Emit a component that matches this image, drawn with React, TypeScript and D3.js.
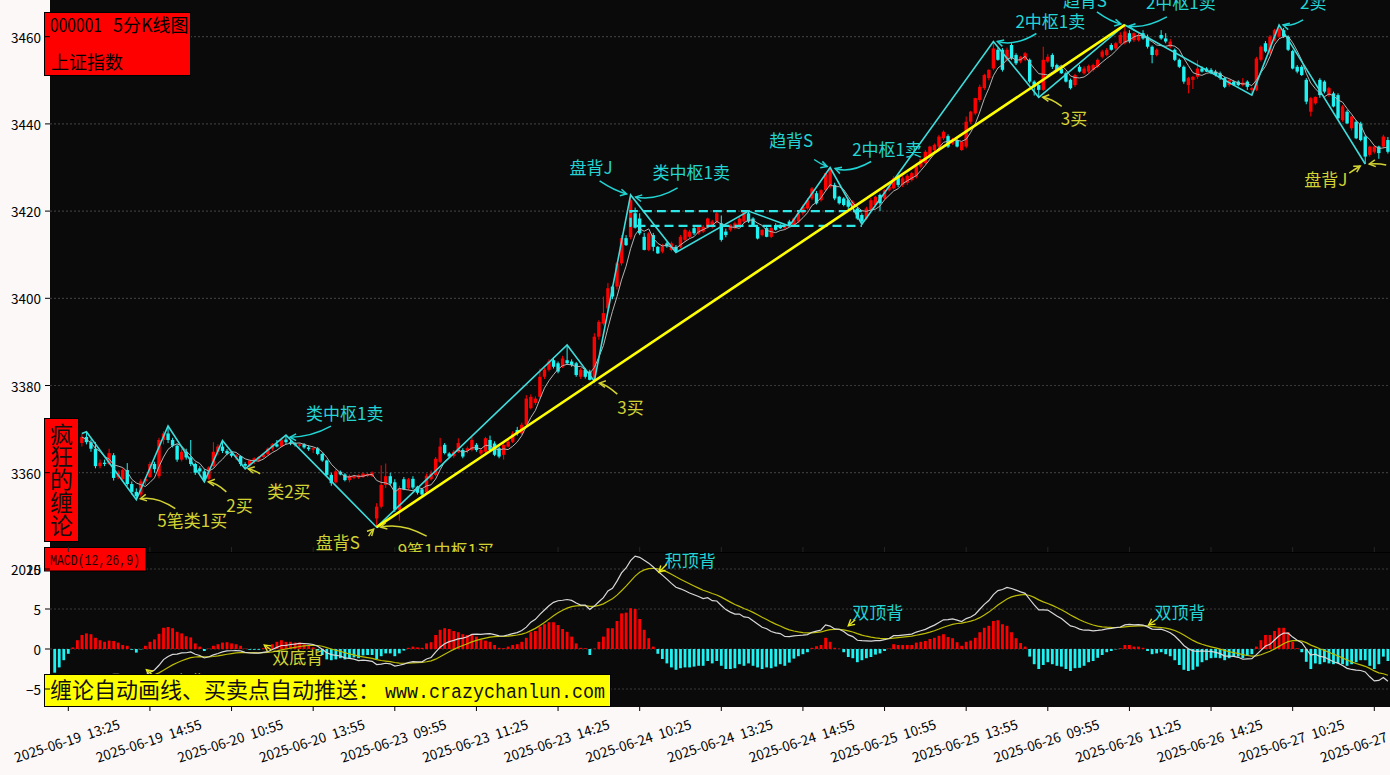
import * as React from 'react';
import * as d3 from 'd3';

// 5-minute slots; slot 0 = 2025-06-19 13:05, candles start at slot 7
const firstSlot = 7;

const opens = [
	3366.8, 3368.2, 3367.0, 3365.5, 3361.5, 3362.3, 3362.0, 3364.0, 3359.0, 3358.5,
	3360.6, 3357.4, 3355.6, 3355.0, 3358.0, 3359.0, 3362.0, 3359.2, 3367.5, 3369.0,
	3367.5, 3366.2, 3363.0, 3364.8, 3363.5, 3362.0, 3361.0, 3360.3, 3358.6, 3361.5,
	3364.8, 3366.0, 3365.0, 3364.4, 3363.6, 3363.8, 3362.0, 3361.6, 3362.8, 3363.0,
	3363.6, 3364.2, 3365.5, 3366.5, 3366.0, 3367.6, 3367.0, 3366.7, 3366.2, 3366.5,
	3365.8, 3365.3, 3365.6, 3364.3, 3362.8, 3359.5, 3357.8, 3360.2, 3359.6, 3358.3,
	3358.8, 3358.9, 3359.0, 3359.3, 3359.2, 3349.5, 3352.2, 3357.2, 3359.2, 3357.8,
	3351.5, 3358.5, 3356.5, 3358.6, 3356.8, 3356.2, 3355.5, 3358.5, 3359.5, 3362.5,
	3366.4, 3364.4, 3363.8, 3364.8, 3365.2, 3365.0, 3365.2, 3366.4, 3364.4, 3364.8,
	3367.5, 3366.7, 3365.6, 3364.1, 3366.0, 3367.1, 3369.8, 3369.0, 3371.0, 3374.8,
	3376.0, 3377.4, 3382.0, 3383.6, 3385.8, 3385.1, 3384.3, 3385.8, 3385.5, 3385.1,
	3382.0, 3383.6, 3383.2, 3381.5, 3391.2, 3394.2, 3397.7, 3402.7, 3402.7, 3408.0,
	3413.8, 3414.0, 3419.5, 3418.3, 3414.1, 3411.1, 3414.5, 3411.8, 3410.7, 3412.6,
	3411.1, 3411.8, 3411.8, 3413.4, 3414.1, 3416.1, 3414.9, 3415.3, 3416.4, 3416.4,
	3417.6, 3417.2, 3415.3, 3415.7, 3416.1, 3416.8, 3417.6, 3419.5, 3418.3, 3416.4,
	3414.5, 3416.1, 3414.1, 3416.8, 3416.8, 3416.1, 3417.6, 3416.8, 3417.6, 3419.5,
	3420.6, 3422.9, 3424.1, 3422.5, 3424.8, 3425.6, 3426.0, 3423.3, 3422.9, 3422.5,
	3421.0, 3420.6, 3419.1, 3418.3, 3420.3, 3421.4, 3423.7, 3422.9, 3424.8, 3425.2,
	3428.0, 3426.0, 3426.5, 3427.1, 3427.9, 3430.2, 3431.0, 3432.5, 3434.0, 3434.8,
	3436.7, 3437.2, 3435.5, 3436.3, 3434.0, 3434.8, 3440.5, 3442.4, 3445.5, 3448.2,
	3450.5, 3452.7, 3457.0, 3457.0, 3454.7, 3458.1, 3455.8, 3454.3, 3454.7, 3454.7,
	3449.7, 3448.9, 3447.8, 3454.3, 3455.8, 3453.5, 3452.7, 3451.6, 3450.1, 3448.9,
	3453.1, 3451.6, 3452.0, 3452.4, 3453.1, 3455.4, 3455.8, 3458.1, 3457.3, 3458.5,
	3458.5, 3460.8, 3459.2, 3459.2, 3460.8, 3460.0, 3457.7, 3455.8, 3460.4, 3459.6,
	3457.7, 3457.0, 3454.7, 3453.1, 3448.9, 3450.1, 3450.8, 3452.7, 3452.7, 3452.4,
	3452.0, 3451.6, 3450.5, 3448.9, 3449.7, 3449.7, 3448.9, 3449.7, 3447.8, 3447.8,
	3454.7, 3458.5, 3456.2, 3459.2, 3460.0, 3461.5, 3460.0, 3456.7, 3453.1, 3453.1,
	3450.1, 3442.8, 3444.7, 3450.1, 3449.7, 3446.6, 3447.0, 3446.6, 3440.9, 3442.8,
	3439.0, 3440.5, 3440.1, 3437.1, 3432.9, 3433.6, 3434.8, 3434.8, 3436.3
];

const highs = [
	3369.0, 3369.4, 3367.6, 3367.0, 3363.0, 3363.0, 3365.5, 3364.5, 3360.5, 3361.0,
	3362.2, 3358.0, 3356.4, 3358.5, 3359.0, 3362.5, 3362.5, 3368.0, 3369.5, 3370.7,
	3368.0, 3366.5, 3365.5, 3365.5, 3367.5, 3362.3, 3361.5, 3360.8, 3361.5, 3367.0,
	3366.5, 3367.4, 3365.4, 3365.0, 3364.3, 3364.0, 3362.4, 3363.0, 3363.5, 3363.8,
	3364.5, 3365.8, 3366.8, 3367.5, 3368.0, 3368.6, 3367.5, 3367.0, 3366.8, 3366.8,
	3366.3, 3365.8, 3365.9, 3364.6, 3363.0, 3360.0, 3360.8, 3360.5, 3359.9, 3359.6,
	3359.5, 3359.6, 3360.0, 3360.0, 3360.3, 3353.0, 3361.7, 3362.1, 3360.0, 3358.5,
	3357.0, 3359.0, 3358.8, 3359.2, 3357.0, 3356.5, 3359.8, 3360.5, 3363.6, 3368.0,
	3366.8, 3364.7, 3365.2, 3367.9, 3365.6, 3366.0, 3368.3, 3366.8, 3365.6, 3368.2,
	3368.5, 3367.2, 3366.0, 3366.8, 3367.5, 3369.5, 3370.5, 3371.5, 3377.8, 3378.0,
	3377.5, 3383.9, 3384.0, 3386.0, 3386.5, 3385.5, 3386.8, 3389.3, 3386.0, 3385.4,
	3384.0, 3384.0, 3383.6, 3392.0, 3395.0, 3400.4, 3403.5, 3403.0, 3408.3, 3414.5,
	3414.5, 3423.7, 3420.8, 3419.5, 3415.0, 3415.2, 3415.0, 3412.0, 3412.5, 3413.0,
	3413.0, 3412.2, 3414.5, 3416.0, 3415.7, 3416.5, 3416.8, 3416.8, 3418.5, 3418.0,
	3419.8, 3419.0, 3416.0, 3417.0, 3417.6, 3418.8, 3419.9, 3420.0, 3418.6, 3416.8,
	3415.8, 3416.5, 3416.4, 3417.2, 3417.0, 3417.0, 3418.0, 3418.5, 3420.0, 3421.5,
	3423.0, 3425.5, 3424.6, 3425.0, 3428.8, 3430.0, 3426.5, 3423.5, 3423.2, 3422.8,
	3422.5, 3421.0, 3419.5, 3421.0, 3423.0, 3423.5, 3424.0, 3425.0, 3426.0, 3428.0,
	3428.3, 3428.0, 3428.5, 3429.0, 3431.0, 3432.0, 3434.0, 3435.0, 3435.5, 3437.5,
	3438.5, 3437.6, 3436.8, 3436.6, 3436.0, 3441.7, 3443.0, 3446.0, 3449.0, 3451.5,
	3452.5, 3458.9, 3457.5, 3457.4, 3457.5, 3458.5, 3456.2, 3455.6, 3456.5, 3455.0,
	3450.0, 3449.3, 3457.7, 3456.0, 3456.2, 3453.8, 3453.0, 3452.0, 3450.4, 3451.5,
	3453.5, 3453.2, 3453.6, 3453.8, 3455.0, 3457.0, 3457.4, 3458.5, 3458.8, 3461.0,
	3462.7, 3461.5, 3461.0, 3460.8, 3461.5, 3460.5, 3458.0, 3457.3, 3461.5, 3460.8,
	3459.5, 3457.3, 3455.0, 3453.4, 3450.8, 3451.0, 3454.6, 3453.2, 3453.0, 3452.8,
	3452.4, 3452.0, 3450.8, 3450.3, 3450.0, 3450.0, 3450.5, 3450.0, 3448.5, 3455.4,
	3458.0, 3459.0, 3460.4, 3461.8, 3462.7, 3462.0, 3460.3, 3457.0, 3453.5, 3453.5,
	3450.5, 3446.2, 3446.3, 3450.5, 3450.0, 3448.5, 3447.4, 3447.0, 3444.3, 3443.2,
	3441.9, 3440.9, 3440.5, 3437.5, 3435.0, 3435.0, 3435.0, 3437.5, 3437.0
];

const lows = [
	3366.0, 3366.5, 3364.8, 3361.0, 3361.0, 3361.5, 3361.8, 3358.2, 3358.5, 3358.0,
	3357.0, 3355.0, 3353.8, 3354.5, 3357.2, 3358.8, 3360.0, 3358.7, 3366.5, 3366.8,
	3365.8, 3362.5, 3362.6, 3363.0, 3361.5, 3359.5, 3359.8, 3357.9, 3358.2, 3361.2,
	3364.0, 3364.5, 3364.0, 3363.5, 3362.9, 3361.5, 3360.9, 3361.3, 3362.0, 3362.5,
	3363.2, 3364.0, 3365.0, 3365.8, 3365.8, 3366.5, 3366.3, 3366.0, 3365.8, 3365.5,
	3365.0, 3364.5, 3364.0, 3362.5, 3359.0, 3357.0, 3357.5, 3359.4, 3358.0, 3357.8,
	3358.5, 3358.6, 3358.8, 3359.0, 3359.0, 3347.5, 3351.8, 3356.5, 3357.0, 3351.0,
	3349.0, 3356.0, 3356.0, 3356.2, 3355.0, 3354.6, 3355.0, 3358.2, 3359.2, 3362.2,
	3364.2, 3363.4, 3363.4, 3364.5, 3363.3, 3364.5, 3364.9, 3364.8, 3364.0, 3364.5,
	3365.0, 3363.8, 3363.3, 3363.0, 3365.8, 3366.8, 3368.5, 3368.6, 3370.8, 3374.5,
	3375.5, 3377.0, 3381.5, 3383.2, 3383.9, 3382.8, 3384.0, 3384.7, 3384.3, 3382.0,
	3381.5, 3381.6, 3381.2, 3381.0, 3390.5, 3393.8, 3397.0, 3399.8, 3402.0, 3407.5,
	3412.0, 3413.5, 3416.0, 3414.5, 3411.0, 3410.8, 3410.8, 3410.2, 3410.3, 3411.6,
	3410.8, 3410.5, 3411.5, 3413.0, 3413.8, 3414.5, 3414.6, 3415.0, 3416.0, 3416.0,
	3417.2, 3413.0, 3414.0, 3415.3, 3415.8, 3416.5, 3417.2, 3417.3, 3416.5, 3413.5,
	3414.2, 3414.0, 3413.8, 3415.5, 3415.9, 3415.8, 3416.6, 3416.6, 3417.3, 3419.0,
	3420.3, 3422.5, 3421.5, 3422.2, 3424.5, 3425.2, 3422.5, 3421.5, 3421.1, 3420.5,
	3420.6, 3418.0, 3417.0, 3418.0, 3420.0, 3421.0, 3420.0, 3422.5, 3424.5, 3425.0,
	3425.5, 3425.5, 3426.0, 3426.8, 3427.5, 3429.8, 3430.7, 3432.0, 3433.6, 3434.5,
	3436.3, 3434.5, 3435.2, 3434.6, 3433.8, 3434.4, 3440.0, 3442.0, 3445.0, 3447.8,
	3450.0, 3452.3, 3454.5, 3452.0, 3454.3, 3454.7, 3453.5, 3453.9, 3454.4, 3449.3,
	3446.5, 3446.1, 3447.5, 3454.0, 3452.6, 3452.0, 3451.5, 3449.5, 3447.9, 3448.5,
	3451.8, 3451.3, 3451.7, 3452.0, 3452.8, 3455.0, 3455.5, 3456.8, 3457.0, 3458.2,
	3458.2, 3458.5, 3458.8, 3458.9, 3459.3, 3457.3, 3453.9, 3455.5, 3459.3, 3458.5,
	3457.3, 3454.4, 3452.8, 3449.2, 3447.0, 3448.0, 3450.3, 3451.8, 3451.9, 3451.4,
	3450.9, 3450.1, 3448.2, 3448.5, 3448.7, 3448.6, 3448.6, 3447.8, 3446.6, 3447.5,
	3454.3, 3456.3, 3455.8, 3458.9, 3459.7, 3459.7, 3456.7, 3452.5, 3451.6, 3451.0,
	3444.5, 3441.7, 3444.4, 3446.0, 3447.0, 3446.2, 3443.8, 3441.0, 3440.5, 3440.0,
	3438.5, 3436.5, 3436.0, 3430.8, 3432.5, 3433.2, 3432.0, 3434.4, 3433.2
];

const closes = [
	3368.2, 3367.0, 3365.5, 3361.5, 3362.3, 3362.0, 3364.5, 3358.8, 3360.0, 3360.6,
	3357.4, 3355.6, 3354.6, 3358.0, 3358.6, 3362.0, 3360.8, 3367.5, 3369.0, 3367.5,
	3366.2, 3363.0, 3364.8, 3363.5, 3362.0, 3360.0, 3360.3, 3358.4, 3361.2, 3364.8,
	3366.0, 3365.0, 3364.4, 3363.9, 3364.0, 3362.0, 3361.6, 3362.8, 3363.3, 3363.6,
	3364.2, 3365.5, 3366.5, 3366.0, 3367.6, 3367.0, 3366.7, 3366.4, 3366.5, 3365.8,
	3365.4, 3365.6, 3364.3, 3362.8, 3359.5, 3357.6, 3360.3, 3359.6, 3358.3, 3359.3,
	3359.2, 3359.4, 3359.8, 3359.7, 3360.0, 3352.2, 3357.2, 3359.2, 3357.5, 3351.5,
	3356.5, 3356.2, 3358.5, 3356.6, 3355.4, 3355.0, 3359.3, 3359.8, 3363.2, 3366.0,
	3364.5, 3363.7, 3364.8, 3366.8, 3363.7, 3365.6, 3367.5, 3365.2, 3365.2, 3367.9,
	3365.2, 3364.1, 3363.7, 3366.4, 3367.1, 3369.0, 3369.0, 3371.0, 3377.0, 3377.4,
	3377.0, 3382.0, 3383.6, 3385.5, 3384.3, 3383.2, 3386.2, 3385.1, 3384.7, 3382.4,
	3383.6, 3382.0, 3381.3, 3391.2, 3394.6, 3396.6, 3402.3, 3400.4, 3408.0, 3413.8,
	3412.2, 3422.5, 3416.2, 3414.9, 3411.1, 3414.9, 3411.8, 3410.3, 3411.9, 3411.9,
	3412.6, 3410.7, 3414.1, 3415.7, 3415.3, 3414.9, 3416.4, 3416.4, 3418.3, 3417.6,
	3419.5, 3413.4, 3414.5, 3416.8, 3417.2, 3418.3, 3419.8, 3417.6, 3416.8, 3413.7,
	3415.7, 3414.1, 3416.1, 3415.7, 3416.1, 3416.8, 3416.8, 3418.3, 3419.5, 3421.0,
	3422.5, 3425.2, 3421.8, 3424.8, 3428.7, 3429.8, 3422.9, 3421.8, 3421.4, 3421.0,
	3422.2, 3418.3, 3417.6, 3420.6, 3422.5, 3423.3, 3421.8, 3424.8, 3425.6, 3427.5,
	3426.0, 3427.5, 3428.1, 3428.7, 3430.3, 3431.9, 3433.6, 3434.8, 3435.2, 3437.1,
	3438.2, 3434.8, 3436.3, 3434.8, 3435.9, 3440.5, 3442.8, 3445.9, 3448.5, 3451.2,
	3452.4, 3457.3, 3454.7, 3452.4, 3457.0, 3455.0, 3453.9, 3455.4, 3456.2, 3449.7,
	3448.5, 3447.8, 3454.7, 3455.4, 3453.1, 3452.4, 3451.6, 3449.7, 3448.2, 3451.2,
	3452.0, 3452.7, 3453.3, 3453.5, 3454.7, 3456.6, 3457.0, 3457.0, 3458.5, 3460.4,
	3461.2, 3458.9, 3460.8, 3460.4, 3459.6, 3457.7, 3455.8, 3457.0, 3459.6, 3458.9,
	3458.9, 3454.7, 3453.1, 3449.7, 3450.5, 3450.8, 3452.7, 3452.0, 3452.0, 3451.6,
	3451.2, 3450.5, 3448.5, 3450.1, 3448.9, 3448.9, 3449.5, 3448.5, 3448.2, 3455.0,
	3457.7, 3456.6, 3460.0, 3461.5, 3461.9, 3460.0, 3457.0, 3452.7, 3452.0, 3451.2,
	3445.1, 3445.9, 3446.2, 3446.6, 3447.4, 3448.2, 3444.0, 3441.3, 3444.0, 3440.1,
	3441.7, 3436.7, 3436.3, 3432.5, 3434.8, 3434.8, 3433.3, 3437.1, 3433.6
];

// MACD histogram (2 x (DIF - DEA)), slot 1 onwards
const macdFirstSlot = 1;
const macdHist = [
	-2.96, -2.3, -1.4, -0.6, 0.2, 1.1, 1.75, 1.95, 1.85, 1.4,
	1.1, 0.9, 1.05, 1.0, 0.8, 0.5, 0.4, -0.1, -0.45, -0.05,
	0.4, 0.9, 1.2, 1.9, 2.65, 2.75, 2.6, 2.15, 1.95, 1.6,
	1.45, 0.7, 0.3, -0.25, 0.05, 0.4, 0.6, 0.8, 0.85, 0.7,
	0.6, 0.4, 0.05, -0.1, -0.1, -0.1, 0.1, 0.2, 0.6, 0.9,
	1.1, 0.9, 0.9, 0.8, 0.8, 0.6, 0.4, 0.2, -0.2, -0.75,
	-1.3, -1.4, -1.3, -1.15, -1.3, -1.15, -1.05, -1.15, -0.8, -0.75,
	-0.75, -1.25, -0.9, -0.55, -0.55, -0.9, -0.55, -0.2, 0.15, 0.3,
	0.2, 0.15, 0.7, 0.85, 1.75, 2.4, 2.6, 2.5, 2.25, 2.1,
	1.85, 1.75, 1.85, 1.55, 1.2, 1.05, 0.9, 0.5, 0.15, 0.1,
	0.3, 0.5, 0.6, 0.9, 1.4, 2.1, 2.25, 2.8, 3.1, 3.35,
	3.35, 3.0, 2.5, 2.15, 1.55, 0.7, 0.15, 0.1, -0.75, 0.05,
	0.9, 1.55, 2.6, 2.6, 3.5, 4.45, 4.55, 5.1, 5.0, 3.75,
	2.4, 1.35, 0.3, -0.6, -1.25, -1.8, -2.3, -2.6, -2.4, -2.3,
	-2.3, -2.2, -2.1, -2.1, -1.5, -1.8, -1.5, -2.1, -2.5, -2.5,
	-2.4, -1.9, -2.1, -1.8, -2.1, -2.3, -2.5, -2.3, -2.4, -2.2,
	-1.9, -2.1, -1.7, -1.2, -0.9, -0.65, -0.4, 0.15, 0.35, 0.5,
	1.4, 0.9, 0.15, 0.05, -0.4, -1.0, -1.15, -1.65, -1.4, -1.15,
	-1.0, -0.7, -0.55, -0.25, 0.05, 0.6, 0.5, 0.5, 0.5, 0.5,
	0.8, 0.9, 1.0, 1.25, 1.4, 1.65, 1.85, 1.5, 1.35, 0.85,
	0.4, 0.9, 1.05, 1.4, 2.1, 2.65, 2.9, 3.5, 3.6, 3.1,
	2.9, 2.1, 1.35, 0.75, 0.3, -0.95, -1.9, -2.5, -2.0, -1.65,
	-1.9, -2.1, -2.2, -2.5, -2.75, -2.4, -2.35, -2.1, -1.65, -1.5,
	-1.1, -0.75, -0.4, -0.25, -0.05, 0.1, 0.5, 0.5, 0.3, 0.3,
	0.15, -0.25, -0.65, -0.55, -0.4, -0.65, -0.9, -1.4, -2.0, -2.6,
	-2.75, -2.6, -2.2, -1.65, -1.4, -1.15, -1.1, -1.15, -1.4, -1.15,
	-0.95, -0.95, -1.15, -0.85, -0.65, 0.3, 1.1, 1.75, 1.75, 2.25,
	2.65, 2.65, 2.1, 0.9, 0.1, -0.4, -1.6, -2.5, -1.8, -1.9,
	-1.65, -1.8, -1.9, -1.8, -1.9, -2.1, -1.9, -1.65, -1.4, -1.4,
	-2.1, -2.5, -1.9, -0.95, -1.5
];
const deaStart = -4.3;

// 笔 turning points and the 线段
const biSlots = [7, 8, 19, 26, 34, 38, 43, 52, 72, 114, 120, 128, 138, 154, 163, 172, 179, 208, 218, 237, 265, 271, 290];
const biPrices = [3369.0, 3369.4, 3353.8, 3370.7, 3357.9, 3367.4, 3360.9, 3368.6, 3347.5, 3389.3, 3381.0, 3423.7, 3410.5, 3420.0, 3416.6, 3430.0, 3417.0, 3458.9, 3446.1, 3462.7, 3446.6, 3462.7, 3430.8];
const segSlots = [72, 237];
const segPrices = [3347.5, 3462.7];

// 中枢
const zsSlots = [128, 179];
const zsPrices = [3416.6, 3420.0];

// buy / sell point notes on the price chart
const noteTexts = ['类中枢1卖', '盘背J', '类中枢1卖', '趋背S', '2中枢1卖', '2中枢1卖', '趋背S', '2中枢1卖', '2卖', '5笔类1买', '2买', '类2买', '盘背S', '9笔1中枢1买', '3买', '3买', '盘背J', ''];
const noteSlots = [52, 128, 128, 172, 172, 208, 237, 237, 271, 19, 34, 43, 72, 72, 120, 218, 290, 290];
const notePrices = [3368.6, 3423.7, 3423.7, 3430.0, 3430.0, 3458.9, 3462.7, 3462.7, 3462.7, 3353.8, 3357.9, 3360.9, 3347.5, 3347.5, 3381.0, 3446.1, 3430.8, 3430.8];
const noteSell = [true, true, true, true, true, true, true, true, true, false, false, false, false, false, false, false, false, false];

// divergence notes on the MACD chart
const macdNoteTexts = ['积顶背', '双顶背', '双顶背', '双底背', '双底背'];
const macdNoteSlots = [134, 176, 242, 47, 21];
const macdNoteValues = [9.6, 2.9, 3.0, 0.5, -2.6];
const macdNoteTop = [true, true, true, false, false];

const priceTicks = [3360, 3380, 3400, 3420, 3440, 3460];
const macdTicks = [-5, 0, 5, 10];
const tickSlots = [4, 22, 40, 58, 76, 94, 112, 130, 148, 166, 184, 202, 220, 238, 256, 274, 292];
const tickLabels = [
	'2025-06-19 13:25', '2025-06-19 14:55', '2025-06-20 10:55', '2025-06-20 13:55',
	'2025-06-23 09:55', '2025-06-23 11:25', '2025-06-23 14:25', '2025-06-24 10:25',
	'2025-06-24 13:25', '2025-06-24 14:55', '2025-06-25 10:55', '2025-06-25 13:55',
	'2025-06-26 09:55', '2025-06-26 11:25', '2025-06-26 14:25', '2025-06-27 10:25',
	'2025-06-27 13:25'
];

// label layout: [textDx, textDy, tailDx, tailDy, ctrlDx, ctrlDy, headDx, headDy]
const noteLayout = [
	[20, -15, 45, -9, 25, 2, 4, 2],
	[-61, -21, -31, -14, -16, -4, -4, -1],
	[22, -16, 47, -7, 25, 6, 5, 2],
	[-61, -21, -16, -8, -9, -3, -3, -1],
	[22, -12, 41, -6, 20, 6, 5, 1],
	[22, -13, 43, -8, 22, 5, 4, 0],
	[-62, -18, -28, -13, -14, -3, -4, -1],
	[21, -16, 42, -8, 20, 4, 4, 1],
	[21, -16, 24, -5, 12, 2, 4, 0],
	[21, 27, 39, 9, 20, -4, 4, -1],
	[22, 30, 22, 10, 12, 1, 4, 0],
	[22, 29, 15, 5, 8, 1, 3, 0],
	[-61, 22, -8, 9, -6, 5, -3, 2],
	[21, 30, 50, 9, 25, -5, 4, 0],
	[23, 33, 23, 13, 12, 3, 5, 2],
	[22, 28, 23, 9, 12, 1, 4, 0],
	[-61, 22, -16, 9, -10, 5, -5, 2],
	[0, 0, 21, 1, 12, -1, 4, 0]
];
const macdNoteLayout = [
	[7, -5, 9, -8, 1, 0],
	[4, -7, 7, -6, 0, 0],
	[7, -6, 8, -5, 1, 0],
	[9, 19, 8, 5, 1, 0],
	[10, 18, 8, 6, 1, 0]
];

const CJK = '"Noto Sans CJK SC", "Noto Sans", sans-serif';
const MONO = '"Liberation Mono", "DejaVu Sans Mono", monospace';
const RED = '#ff0000';
const CYAN = '#1ff2f2';
const TXT_CYAN = '#22d4d4';
const TXT_YELLOW = '#d2d232';

export default function App() {
	const ref = React.useRef<SVGSVGElement>(null);

	React.useEffect(() => {
		const svg = d3.select(ref.current);
		svg.selectAll('*').remove();

		const W = 1390;
		const H = 775;
		const left = 50;
		const mainBottom = 552;
		const macdTop = 553;
		const macdBottom = 707;

		const x = d3.scaleLinear().domain([4, 292]).range([68.3, 1374.3]);
		const y = d3.scaleLinear().domain([3360, 3460]).range([472.7, 36.7]);
		const ym = d3.scaleLinear().domain([-5, 10]).range([689, 569]);

		const defs = svg.append('defs');
		defs.append('clipPath').attr('id', 'clip-main')
			.append('rect').attr('x', left).attr('y', 0).attr('width', W - left).attr('height', mainBottom);
		defs.append('clipPath').attr('id', 'clip-macd')
			.append('rect').attr('x', left).attr('y', macdTop).attr('width', W - left).attr('height', macdBottom - macdTop);

		svg.append('rect').attr('width', W).attr('height', H).attr('fill', '#fcf8f8');
		svg.append('rect').attr('x', left).attr('y', 0).attr('width', W - left).attr('height', macdBottom).attr('fill', '#0a0a0a');
		svg.append('line').attr('x1', left).attr('x2', W).attr('y1', 552.5).attr('y2', 552.5).attr('stroke', '#000').attr('stroke-width', 1);

		// ---------- price panel ----------
		const main = svg.append('g').attr('clip-path', 'url(#clip-main)');

		main.selectAll('.grid').data(priceTicks).enter().append('line')
			.attr('x1', left).attr('x2', W)
			.attr('y1', (d) => y(d)).attr('y2', (d) => y(d))
			.attr('stroke', '#3a3a3a').attr('stroke-width', 1.2).attr('stroke-dasharray', '2,2');

		const candles = closes.map((c, i) => ({
			slot: firstSlot + i, o: opens[i], h: highs[i], l: lows[i], c
		}));
		const cg = main.append('g');
		candles.forEach((d) => {
			const col = d.c >= d.o ? RED : CYAN;
			const cx = x(d.slot);
			cg.append('line').attr('x1', cx).attr('x2', cx).attr('y1', y(d.h)).attr('y2', y(d.l))
				.attr('stroke', col).attr('stroke-width', 1);
			const top = y(Math.max(d.o, d.c));
			const hgt = Math.max(1, Math.abs(y(d.o) - y(d.c)));
			cg.append('rect').attr('x', cx - 1.7).attr('y', top).attr('width', 3.4).attr('height', hgt).attr('fill', col);
		});

		// 5-bar moving average
		const ma = closes.map((_, i) => d3.mean(closes.slice(Math.max(0, i - 4), i + 1)) as number);
		const maLine = d3.line<number>().x((_, i) => x(firstSlot + i)).y((d) => y(d));
		main.append('path').attr('d', maLine(ma)).attr('fill', 'none').attr('stroke', '#b4b4b4').attr('stroke-width', 1);

		// 中枢 box
		const zx0 = x(zsSlots[0]);
		const zx1 = x(zsSlots[1]);
		const zy0 = y(zsPrices[1]);
		const zy1 = y(zsPrices[0]);
		main.append('path')
			.attr('d', `M${zx1},${zy0} L${zx0},${zy0} L${zx0},${zy1} L${zx1},${zy1}`)
			.attr('fill', 'none').attr('stroke', '#2ee6e6').attr('stroke-width', 2.4).attr('stroke-dasharray', '9,5');

		// 笔
		const biLine = d3.line<number>().x((d) => x(d)).y((_, i) => y(biPrices[i]));
		main.append('path').attr('d', biLine(biSlots)).attr('fill', 'none').attr('stroke', '#3fdcdc').attr('stroke-width', 1.6);

		// 线段
		const segLine = d3.line<number>().x((d) => x(d)).y((_, i) => y(segPrices[i]));
		main.append('path').attr('d', segLine(segSlots)).attr('fill', 'none').attr('stroke', '#ffff00').attr('stroke-width', 2.6);

		const drawArrow = (g: any, p0: number[], c: number[], p1: number[], color: string, w: number) => {
			g.append('path').attr('d', `M${p0[0]},${p0[1]} Q${c[0]},${c[1]} ${p1[0]},${p1[1]}`)
				.attr('fill', 'none').attr('stroke', color).attr('stroke-width', w);
			let dx = p1[0] - c[0];
			let dy = p1[1] - c[1];
			if (Math.abs(dx) + Math.abs(dy) < 0.5) {
				dx = p1[0] - p0[0];
				dy = p1[1] - p0[1];
			}
			const ang = Math.atan2(dy, dx);
			const len = 7;
			const a1 = ang + Math.PI - 0.5;
			const a2 = ang + Math.PI + 0.5;
			g.append('path')
				.attr('d', `M${p1[0] + len * Math.cos(a1)},${p1[1] + len * Math.sin(a1)} L${p1[0]},${p1[1]} L${p1[0] + len * Math.cos(a2)},${p1[1] + len * Math.sin(a2)}`)
				.attr('fill', 'none').attr('stroke', color).attr('stroke-width', w);
		};

		const notes = main.append('g');
		noteTexts.forEach((t, i) => {
			const ax = x(noteSlots[i]);
			const ay = y(notePrices[i]);
			const L = noteLayout[i];
			const col = noteSell[i] ? TXT_CYAN : TXT_YELLOW;
			if (t) {
				notes.append('text').attr('x', ax + L[0]).attr('y', ay + L[1])
					.attr('fill', col).attr('font-size', 17).attr('font-family', CJK).text(t);
			}
			drawArrow(notes, [ax + L[2], ay + L[3]], [ax + L[4], ay + L[5]], [ax + L[6], ay + L[7]], col, 1.5);
		});

		// ---------- MACD panel ----------
		const macd = svg.append('g').attr('clip-path', 'url(#clip-macd)');
		macd.selectAll('.mgrid').data(macdTicks).enter().append('line')
			.attr('x1', left).attr('x2', W)
			.attr('y1', (d) => ym(d)).attr('y2', (d) => ym(d))
			.attr('stroke', '#3a3a3a').attr('stroke-width', 1.2).attr('stroke-dasharray', '2,2');

		const dea: number[] = [];
		const dif: number[] = [];
		let acc = deaStart;
		macdHist.forEach((h) => {
			acc += h / 8;
			dea.push(acc);
			dif.push(acc + h / 2);
		});

		macd.selectAll('.bar').data(macdHist).enter().append('rect')
			.attr('x', (_, i) => x(macdFirstSlot + i) - 1.4)
			.attr('width', 2.8)
			.attr('y', (d) => ym(Math.max(0, d)))
			.attr('height', (d) => Math.abs(ym(d) - ym(0)))
			.attr('fill', (d) => (d >= 0 ? RED : CYAN));

		const macdLine = d3.line<number>().x((_, i) => x(macdFirstSlot + i)).y((d) => ym(d));
		macd.append('path').attr('d', macdLine(dea)).attr('fill', 'none').attr('stroke', '#bcbc00').attr('stroke-width', 1.2);
		macd.append('path').attr('d', macdLine(dif)).attr('fill', 'none').attr('stroke', '#d8d8d8').attr('stroke-width', 1.2);

		macdNoteTexts.forEach((t, i) => {
			const ax = x(macdNoteSlots[i]);
			const ay = ym(macdNoteValues[i]);
			const L = macdNoteLayout[i];
			macd.append('text').attr('x', ax + L[0]).attr('y', ay + L[1])
				.attr('fill', macdNoteTop[i] ? TXT_CYAN : TXT_YELLOW)
				.attr('font-size', 17).attr('font-family', CJK).text(t);
			const p0 = [ax + L[2], ay + L[3]];
			const p1 = [ax + L[4], ay + L[5]];
			drawArrow(macd, p0, [(p0[0] + p1[0]) / 2, (p0[1] + p1[1]) / 2], p1, '#e6e61e', 1.4);
		});

		// ---------- boxes ----------
		svg.append('rect').attr('x', 44.5).attr('y', 12.5).attr('width', 146).attr('height', 63)
			.attr('fill', RED).attr('stroke', '#000').attr('stroke-width', 1);
		const title = svg.append('text').attr('y', 32).attr('font-size', 18).attr('font-family', CJK).attr('fill', '#000');
		title.append('tspan').attr('x', 50).attr('textLength', 52).attr('lengthAdjust', 'spacingAndGlyphs').text('000001');
		title.append('tspan').attr('x', 113).text('5分K线图');
		svg.append('text').attr('x', 51).attr('y', 69).attr('font-size', 18).attr('font-family', CJK).attr('fill', '#000')
			.text('上证指数');

		svg.append('rect').attr('x', 44.5).attr('y', 418.5).attr('width', 34).attr('height', 123)
			.attr('fill', RED).attr('stroke', '#000').attr('stroke-width', 1);
		'疯狂的缠论'.split('').forEach((ch, i) => {
			svg.append('text').attr('x', 61.5).attr('y', 432.5 + i * 22.75)
				.attr('text-anchor', 'middle').attr('dominant-baseline', 'central')
				.attr('font-size', 23).attr('font-family', CJK).attr('fill', '#111').text(ch);
		});

		svg.append('rect').attr('x', 44.5).attr('y', 547.5).attr('width', 101.5).attr('height', 23.5)
			.attr('fill', RED).attr('stroke', '#000').attr('stroke-width', 1);
		svg.append('text').attr('x', 50).attr('y', 565).attr('font-size', 15)
			.attr('font-family', MONO).attr('fill', '#200')
			.attr('textLength', 90).attr('lengthAdjust', 'spacingAndGlyphs').text('MACD(12,26,9)');

		svg.append('rect').attr('x', 44.5).attr('y', 674.5).attr('width', 566).attr('height', 32)
			.attr('fill', '#ffff00').attr('stroke', '#000').attr('stroke-width', 1);
		const promo = svg.append('text').attr('y', 698).attr('fill', '#111');
		promo.append('tspan').attr('x', 50).attr('font-size', 22).attr('font-family', CJK).text('缠论自动画线、买卖点自动推送：');
		promo.append('tspan').attr('x', 385).attr('font-size', 20)
			.attr('font-family', MONO)
			.attr('textLength', 220).attr('lengthAdjust', 'spacingAndGlyphs').text('www.crazychanlun.com');

		// ---------- axes ----------
		const axisFont = 13.5;
		priceTicks.forEach((t) => {
			svg.append('line').attr('x1', 45).attr('x2', 50).attr('y1', y(t)).attr('y2', y(t)).attr('stroke', '#000');
			svg.append('text').attr('x', 41).attr('y', y(t)).attr('text-anchor', 'end').attr('dominant-baseline', 'central')
				.attr('font-size', axisFont).attr('font-family', CJK).attr('fill', '#000').text(String(t));
		});
		macdTicks.forEach((t) => {
			svg.append('line').attr('x1', 45).attr('x2', 50).attr('y1', ym(t)).attr('y2', ym(t)).attr('stroke', '#000');
			svg.append('text').attr('x', 41).attr('y', ym(t)).attr('text-anchor', 'end').attr('dominant-baseline', 'central')
				.attr('font-size', axisFont).attr('font-family', CJK).attr('fill', '#000').text(t < 0 ? '\u2212' + Math.abs(t) : String(t));
		});
		svg.append('text').attr('x', 41).attr('y', ym(10)).attr('text-anchor', 'end').attr('dominant-baseline', 'central')
			.attr('font-size', axisFont).attr('font-family', CJK).attr('fill', '#000').text('2025');

		tickSlots.forEach((s, i) => {
			const tx = x(s);
			svg.append('line').attr('x1', tx).attr('x2', tx).attr('y1', 547).attr('y2', 552).attr('stroke', '#262626');
			svg.append('line').attr('x1', tx).attr('x2', tx).attr('y1', macdBottom).attr('y2', macdBottom + 4).attr('stroke', '#000');
			const parts = tickLabels[i].split(' ');
			const lbl = svg.append('text').attr('transform', `translate(${tx - 1.5},740) rotate(-18)`)
				.attr('text-anchor', 'middle').attr('dominant-baseline', 'central')
				.attr('font-size', axisFont).attr('font-family', CJK).attr('fill', '#000')
				.attr('textLength', 110).attr('lengthAdjust', 'spacing')
				.attr('xml:space', 'preserve');
			lbl.text(parts[0] + '\u2002' + parts[1]);
		});
	}, []);

	return (
		<svg
			ref={ref}
			width={1390}
			height={775}
			style={{ position: 'absolute', left: 0, top: 0, display: 'block' }}
		/>
	);
}
